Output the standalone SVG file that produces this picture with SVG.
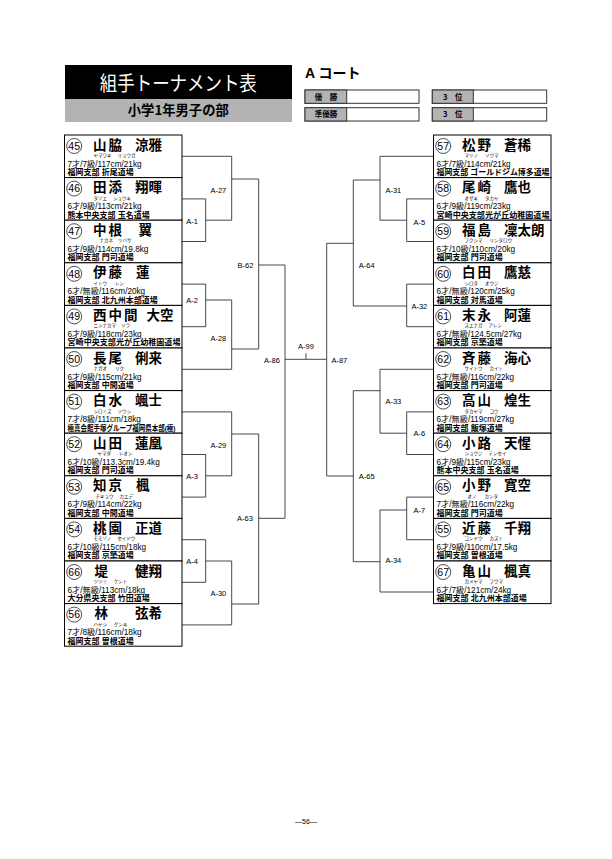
<svg xmlns="http://www.w3.org/2000/svg" width="612" height="859" viewBox="0 0 612 859">
<style>
text{font-family:"Liberation Sans","Noto Sans CJK JP",sans-serif;fill:#000}
.ent rect{fill:#fff;stroke:#000;stroke-width:1}
.ent circle{fill:none;stroke:#222;stroke-width:0.8}
.num{font-size:10.5px;text-anchor:middle}
.nm{font-family:"Noto Sans CJK JP",sans-serif;font-size:13.5px;font-weight:700}
.sn{letter-spacing:2px}
.kn{font-family:"Noto Sans CJK JP",sans-serif;font-size:4.5px}
.d1{font-size:8.2px}
.d2{font-size:8px;font-weight:700}
.ln{fill:none;stroke:#333;stroke-width:0.9}
.lbl{font-size:7.5px;text-anchor:middle}
.hd{font-family:"Noto Sans CJK JP",sans-serif}
.rb rect{stroke:#333;stroke-width:1}
.rbl{font-family:"Noto Sans CJK JP",sans-serif;font-size:7.5px;font-weight:700;text-anchor:middle}
</style>
<rect width="612" height="859" fill="#fff"/>

<g id="header">
<rect x="65" y="65" width="227" height="34" fill="#000"/>
<text class="hd" x="178.3" y="90.5" font-size="20" style="fill:#fff" text-anchor="middle" textLength="157" lengthAdjust="spacingAndGlyphs">組手トーナメント表</text>
<rect x="65" y="99" width="227" height="23" fill="#b3b3b3"/>
<text class="hd" x="178.3" y="115" font-size="13.3" font-weight="700" text-anchor="middle">小学1年男子の部</text>
<text x="305" y="78" font-size="14" font-weight="700">A コート</text>
</g>

<g id="results" class="rb">
<rect x="305" y="90" width="114" height="13.3" fill="#fff"/>
<rect x="305" y="90" width="41.7" height="13.3" fill="#b3b3b3"/>
<text class="rbl" x="326" y="99.5">優　勝</text>
<rect x="305" y="107.7" width="114" height="13.3" fill="#fff"/>
<rect x="305" y="107.7" width="41.7" height="13.3" fill="#b3b3b3"/>
<text class="rbl" x="326" y="117.2">準優勝</text>
<rect x="432.3" y="90" width="114.4" height="13.3" fill="#fff"/>
<rect x="432.3" y="90" width="41" height="13.3" fill="#b3b3b3"/>
<text class="rbl" x="452.8" y="99.5">3　位</text>
<rect x="432.3" y="107.7" width="114.4" height="13.3" fill="#fff"/>
<rect x="432.3" y="107.7" width="41" height="13.3" fill="#b3b3b3"/>
<text class="rbl" x="452.8" y="117.2">3　位</text>
</g>

<g id="connectors">
<path class="ln" d="M182 198.9H205.7V241.5H182M205.7 220.2H231.7"/>
<path class="ln" d="M182 156.3H231.7V220.2M231.7 179H258.7"/>
<path class="ln" d="M182 284.1H205.7V326.7H182M205.7 300H231.7"/>
<path class="ln" d="M182 369.3H231.7V300M231.7 349H258.7"/>
<path class="ln" d="M258.7 179V349M258.7 265H285"/>
<path class="ln" d="M182 411.9H231.7V475.8M231.7 434H258.7"/>
<path class="ln" d="M182 454.5H205.7V497.1H182M205.7 475.8H231.7"/>
<path class="ln" d="M182 539.7H205.7V582.3H182M205.7 561H231.7"/>
<path class="ln" d="M182 624.9H231.7V561M231.7 604H258.7"/>
<path class="ln" d="M258.7 434V604M258.7 518.3H285"/>
<path class="ln" d="M285 265V518.3M285 359.3H326.7M306 353.3V359.3"/>
<path class="ln" d="M326.7 243.3V476"/>
<path class="ln" d="M433.5 198.9H406.7V241.5H433.5M406.7 220.2H380"/>
<path class="ln" d="M433.5 156.3H380V220.2M380 180H353.3"/>
<path class="ln" d="M433.5 284.1H406.7V326.7H433.5M406.7 306H353.3"/>
<path class="ln" d="M353.3 180V306M353.3 243.3H326.7"/>
<path class="ln" d="M433.5 369.3H380V433.2M380 390.7H353.3"/>
<path class="ln" d="M433.5 411.9H406.7V454.5H433.5M406.7 433.2H380"/>
<path class="ln" d="M433.5 497.1H406.7V539.7H433.5M406.7 510H380"/>
<path class="ln" d="M433.5 592H380V510M380 561.7H353.3"/>
<path class="ln" d="M353.3 390.7V561.7M353.3 476H326.7"/>
<text class="lbl" x="192" y="224">A-1</text>
<text class="lbl" x="218.3" y="192.7">A-27</text>
<text class="lbl" x="192" y="303">A-2</text>
<text class="lbl" x="218.3" y="341">A-28</text>
<text class="lbl" x="245.5" y="268.4">B-62</text>
<text class="lbl" x="272" y="362.7">A-86</text>
<text class="lbl" x="306" y="349.2">A-99</text>
<text class="lbl" x="339.3" y="362.7">A-87</text>
<text class="lbl" x="192" y="479.4">A-3</text>
<text class="lbl" x="218.3" y="447.7">A-29</text>
<text class="lbl" x="192" y="564.4">A-4</text>
<text class="lbl" x="218.3" y="596">A-30</text>
<text class="lbl" x="245" y="521">A-63</text>
<text class="lbl" x="419.3" y="224.7">A-5</text>
<text class="lbl" x="393.3" y="192.7">A-31</text>
<text class="lbl" x="419.3" y="308.7">A-32</text>
<text class="lbl" x="366.7" y="268.4">A-64</text>
<text class="lbl" x="393.3" y="404.4">A-33</text>
<text class="lbl" x="419.3" y="436">A-6</text>
<text class="lbl" x="366.7" y="479.4">A-65</text>
<text class="lbl" x="419.3" y="512.7">A-7</text>
<text class="lbl" x="393.3" y="562.7">A-34</text>
</g>

<g id="e45" class="ent" transform="translate(64.5,135)"><rect width="117.5" height="42.6"/><circle cx="9.7" cy="11" r="7.5"/><text class="num" x="9.7" y="14.8">45</text><text class="nm sn" x="28.5" y="14.5">山脇</text><text class="nm" x="70.5" y="14.5">涼雅</text><text class="kn" x="29" y="22">ヤマワキ<tspan dx="6">リョウガ</tspan></text><text class="d1" x="3" y="31.5">7才/7級/117cm/21kg</text><text class="d2" x="3" y="40">福岡支部 折尾道場</text></g>
<g id="e46" class="ent" transform="translate(64.5,177.6)"><rect width="117.5" height="42.6"/><circle cx="9.7" cy="11" r="7.5"/><text class="num" x="9.7" y="14.8">46</text><text class="nm sn" x="28.5" y="14.5">田添</text><text class="nm" x="70.5" y="14.5">翔暉</text><text class="kn" x="29" y="22">タゾエ<tspan dx="6">ショウキ</tspan></text><text class="d1" x="3" y="31.5">6才/9級/113cm/21kg</text><text class="d2" x="3" y="40">熊本中央支部 玉名道場</text></g>
<g id="e47" class="ent" transform="translate(64.5,220.2)"><rect width="117.5" height="42.6"/><circle cx="9.7" cy="11" r="7.5"/><text class="num" x="9.7" y="14.8">47</text><text class="nm sn" x="28.5" y="14.5">中根</text><text class="nm" x="74" y="14.5">翼</text><text class="kn" x="35" y="22">ナカネ<tspan dx="5">ツバサ</tspan></text><text class="d1" x="3" y="31.5">6才/9級/114cm/19.8kg</text><text class="d2" x="3" y="40">福岡支部 門司道場</text></g>
<g id="e48" class="ent" transform="translate(64.5,262.8)"><rect width="117.5" height="42.6"/><circle cx="9.7" cy="11" r="7.5"/><text class="num" x="9.7" y="14.8">48</text><text class="nm sn" x="28.5" y="14.5">伊藤</text><text class="nm" x="71.5" y="14.5">蓮</text><text class="kn" x="29" y="22">イトウ<tspan dx="8">レン</tspan></text><text class="d1" x="3" y="31.5">6才/無級/116cm/20kg</text><text class="d2" x="3" y="40">福岡支部 北九州本部道場</text></g>
<g id="e49" class="ent" transform="translate(64.5,305.4)"><rect width="117.5" height="42.6"/><circle cx="9.7" cy="11" r="7.5"/><text class="num" x="9.7" y="14.8">49</text><text class="nm sn" x="28.5" y="14.5">西中間</text><text class="nm" x="82" y="14.5">大空</text><text class="kn" x="29" y="22">ニシナカマ<tspan dx="5">ソラ</tspan></text><text class="d1" x="3" y="31.5">6才/9級/118cm/23kg</text><text class="d2" x="3" y="40" textLength="113" lengthAdjust="spacingAndGlyphs">宮崎中央支部光が丘幼稚園道場</text></g>
<g id="e50" class="ent" transform="translate(64.5,348)"><rect width="117.5" height="42.6"/><circle cx="9.7" cy="11" r="7.5"/><text class="num" x="9.7" y="14.8">50</text><text class="nm sn" x="28.5" y="14.5">長尾</text><text class="nm" x="70.5" y="14.5">俐来</text><text class="kn" x="29" y="22">ナガオ<tspan dx="8">リク</tspan></text><text class="d1" x="3" y="31.5">6才/9級/115cm/21kg</text><text class="d2" x="3" y="40">福岡支部 中間道場</text></g>
<g id="e51" class="ent" transform="translate(64.5,390.6)"><rect width="117.5" height="42.6"/><circle cx="9.7" cy="11" r="7.5"/><text class="num" x="9.7" y="14.8">51</text><text class="nm sn" x="28.5" y="14.5">白水</text><text class="nm" x="70.5" y="14.5">颯士</text><text class="kn" x="29" y="22">シロミズ<tspan dx="6">ソウシ</tspan></text><text class="d1" x="3" y="31.5">7才/8級/111cm/18kg</text><text class="d2" x="3" y="40" textLength="108" lengthAdjust="spacingAndGlyphs">極真会館手塚グループ福岡県本部(極)</text></g>
<g id="e52" class="ent" transform="translate(64.5,433.2)"><rect width="117.5" height="42.6"/><circle cx="9.7" cy="11" r="7.5"/><text class="num" x="9.7" y="14.8">52</text><text class="nm sn" x="28.5" y="14.5">山田</text><text class="nm" x="70.5" y="14.5">蓮凰</text><text class="kn" x="33" y="22">ヤマダ<tspan dx="8">レオン</tspan></text><text class="d1" x="3" y="31.5">6才/10級/113.3cm/19.4kg</text><text class="d2" x="3" y="40">福岡支部 門司道場</text></g>
<g id="e53" class="ent" transform="translate(64.5,475.8)"><rect width="117.5" height="42.6"/><circle cx="9.7" cy="11" r="7.5"/><text class="num" x="9.7" y="14.8">53</text><text class="nm sn" x="28.5" y="14.5">知京</text><text class="nm" x="71.5" y="14.5">楓</text><text class="kn" x="31" y="22">チキョウ<tspan dx="6">カエデ</tspan></text><text class="d1" x="3" y="31.5">6才/9級/114cm/22kg</text><text class="d2" x="3" y="40">福岡支部 中間道場</text></g>
<g id="e54" class="ent" transform="translate(64.5,518.4)"><rect width="117.5" height="42.6"/><circle cx="9.7" cy="11" r="7.5"/><text class="num" x="9.7" y="14.8">54</text><text class="nm sn" x="28.5" y="14.5">桃園</text><text class="nm" x="70.5" y="14.5">正道</text><text class="kn" x="29" y="22">モモゾノ<tspan dx="6">セイドウ</tspan></text><text class="d1" x="3" y="31.5">6才/10級/115cm/18kg</text><text class="d2" x="3" y="40">福岡支部 京築道場</text></g>
<g id="e66" class="ent" transform="translate(64.5,561)"><rect width="117.5" height="42.6"/><circle cx="9.7" cy="11" r="7.5"/><text class="num" x="9.7" y="14.8">66</text><text class="nm sn" x="30" y="14.5">堤</text><text class="nm" x="70.5" y="14.5">健翔</text><text class="kn" x="29" y="22">ツツミ<tspan dx="7">ケント</tspan></text><text class="d1" x="3" y="31.5">6才/無級/113cm/18kg</text><text class="d2" x="3" y="40">大分県央支部 竹田道場</text></g>
<g id="e56" class="ent" transform="translate(64.5,603.6)"><rect width="117.5" height="42.6"/><circle cx="9.7" cy="11" r="7.5"/><text class="num" x="9.7" y="14.8">56</text><text class="nm sn" x="30" y="14.5">林</text><text class="nm" x="70.5" y="14.5">弦希</text><text class="kn" x="29" y="22">ハヤシ<tspan dx="7">ゲンキ</tspan></text><text class="d1" x="3" y="31.5">7才/8級/116cm/18kg</text><text class="d2" x="3" y="40">福岡支部 曽根道場</text></g>

<g id="e57" class="ent" transform="translate(433.5,135)"><rect width="117.5" height="42.6"/><circle cx="9.7" cy="11" r="7.5"/><text class="num" x="9.7" y="14.8">57</text><text class="nm sn" x="28.5" y="14.5">松野</text><text class="nm" x="70.5" y="14.5">蒼稀</text><text class="kn" x="31" y="22">マツノ<tspan dx="7">ソウマ</tspan></text><text class="d1" x="3" y="31.5">6才/7級/114cm/21kg</text><text class="d2" x="3" y="40" textLength="113" lengthAdjust="spacingAndGlyphs">福岡支部 ゴールドジム博多道場</text></g>
<g id="e58" class="ent" transform="translate(433.5,177.6)"><rect width="117.5" height="42.6"/><circle cx="9.7" cy="11" r="7.5"/><text class="num" x="9.7" y="14.8">58</text><text class="nm sn" x="28.5" y="14.5">尾崎</text><text class="nm" x="70.5" y="14.5">鷹也</text><text class="kn" x="31" y="22">オザキ<tspan dx="7">タカヤ</tspan></text><text class="d1" x="3" y="31.5">6才/9級/119cm/23kg</text><text class="d2" x="3" y="40" textLength="113" lengthAdjust="spacingAndGlyphs">宮崎中央支部光が丘幼稚園道場</text></g>
<g id="e59" class="ent" transform="translate(433.5,220.2)"><rect width="117.5" height="42.6"/><circle cx="9.7" cy="11" r="7.5"/><text class="num" x="9.7" y="14.8">59</text><text class="nm sn" x="28.5" y="14.5">福島</text><text class="nm" x="70.5" y="14.5">凜太朗</text><text class="kn" x="31" y="22">フクシマ<tspan dx="7">リンタロウ</tspan></text><text class="d1" x="3" y="31.5">6才/10級/110cm/20kg</text><text class="d2" x="3" y="40">福岡支部 門司道場</text></g>
<g id="e60" class="ent" transform="translate(433.5,262.8)"><rect width="117.5" height="42.6"/><circle cx="9.7" cy="11" r="7.5"/><text class="num" x="9.7" y="14.8">60</text><text class="nm sn" x="28.5" y="14.5">白田</text><text class="nm" x="70.5" y="14.5">鷹慈</text><text class="kn" x="31" y="22">シロタ<tspan dx="7">オウジ</tspan></text><text class="d1" x="3" y="31.5">6才/無級/120cm/25kg</text><text class="d2" x="3" y="40">福岡支部 対馬道場</text></g>
<g id="e61" class="ent" transform="translate(433.5,305.4)"><rect width="117.5" height="42.6"/><circle cx="9.7" cy="11" r="7.5"/><text class="num" x="9.7" y="14.8">61</text><text class="nm sn" x="28.5" y="14.5">末永</text><text class="nm" x="70.5" y="14.5">阿蓮</text><text class="kn" x="31" y="22">スエナガ<tspan dx="6">アレン</tspan></text><text class="d1" x="3" y="31.5">6才/無級/124.5cm/27kg</text><text class="d2" x="3" y="40">福岡支部 京築道場</text></g>
<g id="e62" class="ent" transform="translate(433.5,348)"><rect width="117.5" height="42.6"/><circle cx="9.7" cy="11" r="7.5"/><text class="num" x="9.7" y="14.8">62</text><text class="nm sn" x="28.5" y="14.5">斉藤</text><text class="nm" x="70.5" y="14.5">海心</text><text class="kn" x="31" y="22">サイトウ<tspan dx="7">カイト</tspan></text><text class="d1" x="3" y="31.5">6才/無級/116cm/22kg</text><text class="d2" x="3" y="40">福岡支部 門司道場</text></g>
<g id="e63" class="ent" transform="translate(433.5,390.6)"><rect width="117.5" height="42.6"/><circle cx="9.7" cy="11" r="7.5"/><text class="num" x="9.7" y="14.8">63</text><text class="nm sn" x="28.5" y="14.5">高山</text><text class="nm" x="70.5" y="14.5">煌生</text><text class="kn" x="31" y="22">タカヤマ<tspan dx="7">コウ</tspan></text><text class="d1" x="3" y="31.5">6才/無級/119cm/27kg</text><text class="d2" x="3" y="40">福岡支部 飯塚道場</text></g>
<g id="e64" class="ent" transform="translate(433.5,433.2)"><rect width="117.5" height="42.6"/><circle cx="9.7" cy="11" r="7.5"/><text class="num" x="9.7" y="14.8">64</text><text class="nm sn" x="28.5" y="14.5">小路</text><text class="nm" x="70.5" y="14.5">天惺</text><text class="kn" x="31" y="22">ショウジ<tspan dx="6">テンセイ</tspan></text><text class="d1" x="3" y="31.5">6才/9級/115cm/23kg</text><text class="d2" x="3" y="40">熊本中央支部 玉名道場</text></g>
<g id="e65" class="ent" transform="translate(433.5,475.8)"><rect width="117.5" height="42.6"/><circle cx="9.7" cy="11" r="7.5"/><text class="num" x="9.7" y="14.8">65</text><text class="nm sn" x="28.5" y="14.5">小野</text><text class="nm" x="70.5" y="14.5">寛空</text><text class="kn" x="34" y="22">オノ<tspan dx="8">カンタ</tspan></text><text class="d1" x="3" y="31.5">7才/無級/116cm/22kg</text><text class="d2" x="3" y="40">福岡支部 門司道場</text></g>
<g id="e55" class="ent" transform="translate(433.5,518.4)"><rect width="117.5" height="42.6"/><circle cx="9.7" cy="11" r="7.5"/><text class="num" x="9.7" y="14.8">55</text><text class="nm sn" x="28.5" y="14.5">近藤</text><text class="nm" x="70.5" y="14.5">千翔</text><text class="kn" x="31" y="22">コンドウ<tspan dx="7">カズト</tspan></text><text class="d1" x="3" y="31.5">6才/9級/110cm/17.5kg</text><text class="d2" x="3" y="40">福岡支部 曽根道場</text></g>
<g id="e67" class="ent" transform="translate(433.5,561)"><rect width="117.5" height="42.6"/><circle cx="9.7" cy="11" r="7.5"/><text class="num" x="9.7" y="14.8">67</text><text class="nm sn" x="28.5" y="14.5">亀山</text><text class="nm" x="70.5" y="14.5">楓真</text><text class="kn" x="31" y="22">カメヤマ<tspan dx="7">フウマ</tspan></text><text class="d1" x="3" y="31.5">6才/7級/121cm/24kg</text><text class="d2" x="3" y="40">福岡支部 北九州本部道場</text></g>

<text x="306" y="824" font-size="7" text-anchor="middle">—56—</text>
</svg>
